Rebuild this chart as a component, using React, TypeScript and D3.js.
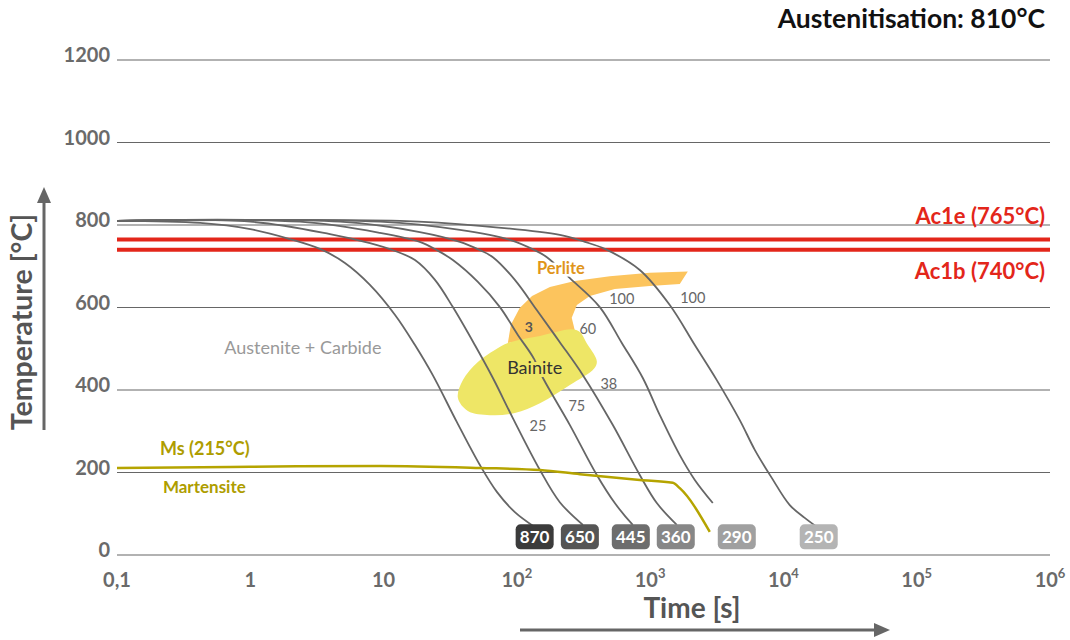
import React from 'react';
import * as d3 from 'd3';

// cooling curves: [time s, temperature °C]
const curve870 = [[0.1, 810], [0.42, 805], [1, 790], [1.98, 766], [3.33, 742], [5.13, 708], [7.9, 655], [12.2, 582], [17.2, 509], [23.4, 436], [35.5, 322], [52.8, 218], [70.8, 153], [96.6, 104], [136, 68]];
const curve650 = [[0.1, 810], [1, 808], [3.96, 778], [7.9, 756], [12.2, 737], [17.2, 715], [24.3, 667], [33.1, 601], [48.4, 509], [66.1, 429], [93.3, 332], [149, 206], [210, 128], [313, 73]];
const curve445 = [[0.1, 810], [2.36, 808], [9.39, 781], [18.7, 759], [25.1, 739], [33.1, 715], [51, 662], [74.6, 601], [102, 533], [132, 480], [157, 429], [250, 315], [398, 194], [543, 126], [741, 73]];
const curve360 = [[0.1, 810], [4.7, 808], [18.7, 783], [37.4, 759], [52.8, 739], [66.1, 722], [96.6, 667], [141, 594], [210, 516], [313, 436], [525, 315], [836, 194], [1122, 126], [1585, 73]];
const curve290 = [[0.1, 810], [9.39, 808], [37.4, 788], [88.6, 764], [136, 739], [168, 722], [250, 671], [419, 601], [613, 514], [881, 429], [1182, 339], [1669, 242], [2163, 182], [2951, 126]];
const curve250 = [[0.1, 810], [13.3, 810], [52.8, 798], [210, 776], [324, 759], [457, 742], [836, 691], [1404, 606], [2163, 509], [3162, 424], [4704, 327], [6095, 255], [8173, 187], [11156, 121], [14454, 90], [18730, 63]];
const curves = [curve870, curve650, curve445, curve360, curve290, curve250];

const badgeLabels = ['870', '650', '445', '360', '290', '250'];
const badgeTimes = [136, 297, 716, 1557, 4467, 18400];
const badgeColors = ['#3b3b3b', '#555555', '#6d6d6d', '#878787', '#a0a0a0', '#b4b4b4'];

const msLine = [[0.1, 211], [1, 214], [9.4, 216], [52.8, 211], [149, 206], [297, 196], [836, 182], [1479, 175], [1669, 162], [2802, 56]];

const perlite = [[85.6, 514], [90.2, 558], [105, 599], [130, 628], [177, 650], [272, 664], [498, 676], [994, 684], [1917, 687], [1669, 657], [994, 652], [543, 645], [353, 628], [282, 606], [258, 575], [272, 545], [149, 526]];
const bainite = [[85.6, 514], [149, 531], [282, 545], [341, 509], [398, 470], [380, 452], [250, 412], [149, 368], [96.6, 344], [62.8, 339], [42.9, 349], [36.1, 381], [39.4, 424], [51, 468], [68.4, 497]];

const numberLabels = [
  { text: '100', t: 613, T: 621 },
  { text: '100', t: 2089, T: 623 },
  { text: '60', t: 341, T: 548 },
  { text: '38', t: 490, T: 415 },
  { text: '75', t: 282, T: 361 },
  { text: '25', t: 144, T: 313 },
];

const yTicks = [0, 200, 400, 600, 800, 1000, 1200];
const xTicks = [0.1, 1, 10, 100, 1000, 10000, 100000, 1000000];
const xTickBase = ['0,1', '1', '10', '10', '10', '10', '10', '10'];
const xTickExp = ['', '', '', '2', '3', '4', '5', '6'];

const ac1e = 765;
const ac1b = 740;

const W = 1070;
const H = 640;
const FONT = 'Lato, "Open Sans", sans-serif';

export default function App() {
  const x = d3.scaleLog().domain([0.1, 1e6]).range([117, 1050]);
  const y = d3.scaleLinear().domain([0, 1200]).range([555, 60]);

  const line = d3.line<number[]>().x(d => x(d[0])).y(d => y(d[1])).curve(d3.curveCatmullRom.alpha(0.5));
  const msPath = d3.line<number[]>().x(d => x(d[0])).y(d => y(d[1])).curve(d3.curveMonotoneX);
  const area = d3.line<number[]>().x(d => x(d[0])).y(d => y(d[1])).curve(d3.curveLinearClosed);
  const blob = d3.line<number[]>().x(d => x(d[0])).y(d => y(d[1])).curve(d3.curveCatmullRomClosed.alpha(0.5));

  const [x0, x1] = x.range();

  return (
    <svg width={W} height={H} style={{ position: 'absolute', left: 0, top: 0, display: 'block', background: '#fff' }} fontFamily={FONT}>
      {/* title */}
      <text x={1045} y={28} textAnchor="end" fontSize={26.5} fontWeight={700} fill="#111">Austenitisation: 810°C</text>

      {/* grid */}
      {yTicks.map(t => (
        <g key={t}>
          <line x1={x0} x2={x1} y1={y(t)} y2={y(t)} stroke="#666" strokeWidth={1.2} />
          <text x={110} y={y(t) + 2} textAnchor="end" fontSize={20} fontWeight={700} fill="#6a6a6a">{t}</text>
        </g>
      ))}

      {xTicks.map((t, i) => (
        <text key={t} x={x(t)} y={587} textAnchor="middle" fontSize={20} fontWeight={700} fill="#6a6a6a">
          {xTickBase[i]}
          {xTickExp[i] && <tspan fontSize={13} dy={-9}>{xTickExp[i]}</tspan>}
        </text>
      ))}

      {/* regions */}
      <path d={area(perlite) || ''} fill="#fcc45d" />
      <path d={blob(bainite) || ''} fill="#eee666" />

      {/* Ac lines */}
      <line x1={x0} x2={x1} y1={y(ac1e)} y2={y(ac1e)} stroke="#e3261a" strokeWidth={4} />
      <line x1={x0} x2={x1} y1={y(ac1b)} y2={y(ac1b)} stroke="#e3261a" strokeWidth={4} />
      <text x={1045} y={y(ac1e) - 15} textAnchor="end" fontSize={22} fontWeight={700} fill="#e3261a">Ac1e (765°C)</text>
      <text x={1045} y={y(ac1b) + 29} textAnchor="end" fontSize={22} fontWeight={700} fill="#e3261a">Ac1b (740°C)</text>

      {/* cooling curves */}
      {curves.map((c, i) => (
        <path key={i} d={line(c) || ''} fill="none" stroke="#666" strokeWidth={1.8} />
      ))}

      {/* Ms line */}
      <path d={msPath(msLine) || ''} fill="none" stroke="#b5a400" strokeWidth={2.5} />
      <text x={x(0.21)} y={y(242)} fontSize={18} fontWeight={700} fill="#ae9d00">Ms (215°C)</text>
      <text x={x(0.221)} y={y(165) + 6} fontSize={17} fontWeight={700} fill="#ae9d00">Martensite</text>

      {/* phase labels */}
      <text x={x(2.48)} y={y(502) + 6} textAnchor="middle" fontSize={18} fill="#999">Austenite + Carbide</text>
      <text x={x(214)} y={y(696) + 6} textAnchor="middle" fontSize={16.5} fontWeight={700} fill="#e0951a"
        stroke="#fff" strokeWidth={5} paintOrder="stroke">Perlite</text>
      <text x={x(136)} y={y(453) + 6} textAnchor="middle" fontSize={18} fill="#333"
        stroke="#eee666" strokeWidth={6} paintOrder="stroke">Bainite</text>
      <text x={x(123)} y={y(553) + 5} textAnchor="middle" fontSize={14} fontWeight={700} fill="#555">3</text>
      {numberLabels.map((d, i) => (
        <text key={i} x={x(d.t)} y={y(d.T) + 5} textAnchor="middle" fontSize={14.5} fill="#666">{d.text}</text>
      ))}

      {/* badges */}
      {badgeLabels.map((b, i) => (
        <g key={b} transform={`translate(${x(badgeTimes[i])},${y(44)})`}>
          <rect x={-19} y={-12.5} width={38} height={25} rx={5} fill={badgeColors[i]} />
          <text y={6} textAnchor="middle" fontSize={17} fontWeight={700} fill="#fff">{b}</text>
        </g>
      ))}

      {/* axis titles */}
      <text x={692} y={618} textAnchor="middle" fontSize={28} fontWeight={700} fill="#555">Time [s]</text>
      <line x1={520} x2={876} y1={630} y2={630} stroke="#666" strokeWidth={3} />
      <path d="M890,630 L874,623 L874,637 Z" fill="#666" />

      <text transform="translate(32,322) rotate(-90)" textAnchor="middle" fontSize={28.5} fontWeight={700} fill="#555">Temperature [°C]</text>
      <line x1={44} x2={44} y1={430} y2={200} stroke="#666" strokeWidth={3} />
      <path d="M44,187 L37,203 L51,203 Z" fill="#666" />
    </svg>
  );
}
